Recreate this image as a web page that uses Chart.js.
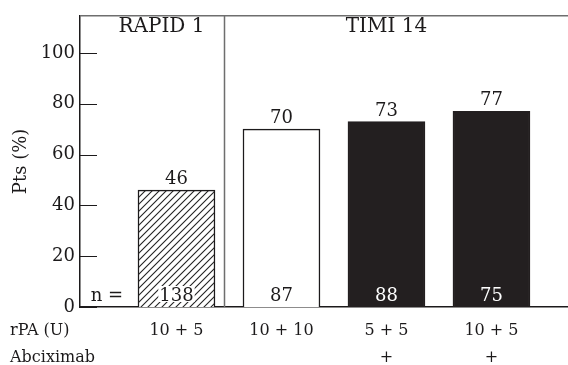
<!DOCTYPE html>
<html>
<head>
<meta charset="utf-8">
<script src="https://cdn.jsdelivr.net/npm/chart.js@4.4.1/dist/chart.umd.min.js"></script>
<style>
  html, body { margin: 0; padding: 0; background: #fff; }
  #wrap { width: 568px; height: 365px; }
</style>
</head>
<body>
<div id="wrap"><canvas id="chart" width="568" height="365"></canvas></div>
<script>
// values
const positions = [1, 2, 3, 4];
const percentages = [46, 70, 73, 77];
const patientCounts = [138, 87, 88, 75];
const rpaLabels = ['10 + 5', '10 + 10', '5 + 5', '10 + 5'];
const abciximabLabels = ['', '', '+', '+'];
const groupNames = ['RAPID 1', 'TIMI 14'];
const rowNames = ['rPA (U)', 'Abciximab'];

const FONT = '"DejaVu Serif", "Liberation Serif", serif';
const INK = '#1c1a1b';
const BAR_DARK = '#231f20';

function makeHatch() {
    const c = document.createElement('canvas');
    c.width = 7;
    c.height = 7;
    const g = c.getContext('2d');
    g.fillStyle = '#fff';
    g.fillRect(0, 0, 7, 7);
    g.strokeStyle = '#222';
    g.lineWidth = 1.1;
    g.beginPath();
    g.moveTo(0, 7); g.lineTo(7, 0);
    g.moveTo(-1, 1); g.lineTo(1, -1);
    g.moveTo(6, 8); g.lineTo(8, 6);
    g.stroke();
    return g.createPattern(c, 'repeat');
}

const ctx = document.getElementById('chart').getContext('2d');
const hatch = makeHatch();

// extra drawing: frame lines, inner ticks, value labels, group titles
const annotations = {
    id: 'annotations',
    afterDatasetsDraw(chart) {
        const c = chart.ctx;
        const area = chart.chartArea;
        const xs = chart.scales.x;
        const ys = chart.scales.y;
        const bars = chart.getDatasetMeta(0).data;

        c.save();
        // grey top rule and group divider
        c.strokeStyle = '#6e6e6e';
        c.lineWidth = 1.5;
        c.beginPath();
        c.moveTo(area.left, area.top);
        c.lineTo(area.right, area.top);
        const divX = Math.round(xs.getPixelForValue(1.45)) + 0.5;
        c.moveTo(divX, area.top);
        c.lineTo(divX, area.bottom);
        c.stroke();

        // inward tick marks on the y axis
        c.strokeStyle = INK;
        c.lineWidth = 1;
        c.beginPath();
        ys.ticks.forEach(t => {
            const y = Math.round(ys.getPixelForValue(t.value)) + 0.5;
            c.moveTo(area.left, y);
            c.lineTo(area.left + 17, y);
        });
        c.stroke();

        // percentages above bars
        c.font = '18px ' + FONT;
        c.textAlign = 'center';
        c.textBaseline = 'alphabetic';
        c.fillStyle = INK;
        bars.forEach((b, i) => {
            c.fillText(String(percentages[i]), b.x, b.y - 6);
        });

        // patient counts at the foot of the bars
        const nY = area.bottom - 6;
        c.fillText('n =', xs.getPixelForValue(0.338), nY);
        bars.forEach((b, i) => {
            const txt = String(patientCounts[i]);
            const w = c.measureText(txt).width;
            if (i === 0) {
                c.fillStyle = '#fff';
                c.fillRect(b.x - w / 2 - 1, nY - 15, w + 2, 16);
            }
            c.fillStyle = i >= 2 ? '#fff' : INK;
            c.fillText(txt, b.x, nY);
        });

        // group titles
        c.fillStyle = INK;
        c.font = '20px ' + FONT;
        c.textBaseline = 'middle';
        c.fillText(groupNames[0], xs.getPixelForValue(0.857), 27);
        c.fillText(groupNames[1], xs.getPixelForValue(3), 27);

        // row captions left of the category labels
        c.font = '16px ' + FONT;
        c.textAlign = 'left';
        c.fillText(rowNames[0], 10, 331);
        c.fillText(rowNames[1], 10, 358);
        c.restore();
    }
};

new Chart(ctx, {
    type: 'bar',
    data: {
        datasets: [{
            data: positions.map((p, i) => ({ x: p, y: percentages[i] })),
            backgroundColor: [hatch, '#ffffff', BAR_DARK, BAR_DARK],
            borderColor: [INK, INK, BAR_DARK, BAR_DARK],
            borderWidth: 1.5,
            barThickness: 77
        }]
    },
    options: {
        responsive: false,
        animation: false,
        devicePixelRatio: 1,
        layout: { padding: { top: 14, left: 0, right: 0, bottom: 0 } },
        plugins: {
            legend: { display: false },
            tooltip: { enabled: false }
        },
        scales: {
            x: {
                type: 'linear',
                min: 0.081,
                max: 4.729,
                offset: false,
                grid: { display: false, drawTicks: false },
                border: { display: true, color: INK, width: 1.5 },
                afterBuildTicks: s => { s.ticks = positions.map(v => ({ value: v })); },
                ticks: {
                    autoSkip: false,
                    maxRotation: 0,
                    padding: 10,
                    color: INK,
                    font: { family: FONT, size: 16, lineHeight: 1.7 },
                    callback: v => {
                        const i = positions.indexOf(v);
                        return i < 0 ? '' : [rpaLabels[i], abciximabLabels[i]];
                    }
                },
                afterFit: s => { s.height = 58; }
            },
            y: {
                min: 0,
                max: 114.6,
                grid: { display: false, drawTicks: false },
                border: { display: true, color: INK, width: 1.5 },
                ticks: {
                    stepSize: 20,
                    includeBounds: false,
                    padding: 5,
                    color: INK,
                    font: { family: FONT, size: 18 }
                },
                title: {
                    display: true,
                    text: 'Pts (%)',
                    color: INK,
                    font: { family: FONT, size: 18 },
                    padding: { top: 11, bottom: 0 }
                },
                afterFit: s => { s.width = 80; }
            }
        }
    },
    plugins: [annotations]
});
</script>
</body>
</html>
